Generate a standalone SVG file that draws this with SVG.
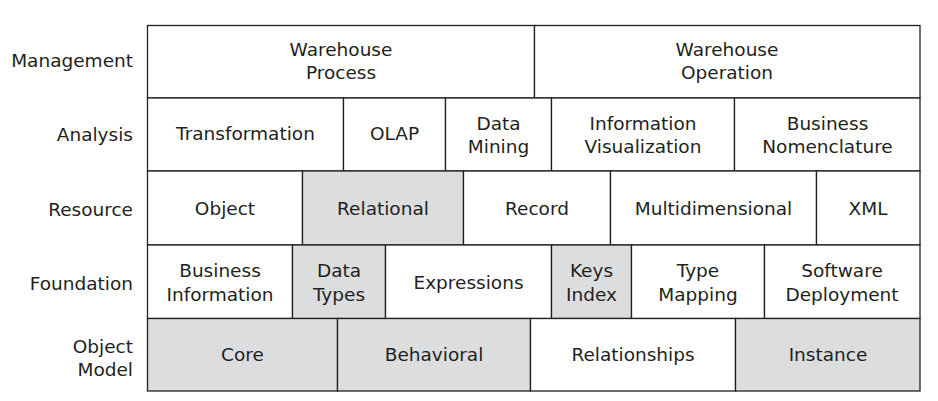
<svg xmlns="http://www.w3.org/2000/svg" width="938" height="401" viewBox="0 0 938 401">
<style>
.c{fill:#ffffff;stroke:#231f20;stroke-width:1.3}
.g{fill:#dcdddf;stroke:#231f20;stroke-width:1.3}
text{font-family:"DejaVu Sans","Open Sans",sans-serif;font-size:18.5px;fill:#231f20}
.t{text-anchor:middle}
.l{text-anchor:end}
</style>
<rect x="0" y="0" width="938" height="401" fill="#ffffff"/>
<g id="labels">
<text class="l" x="133" y="66.5">Management</text>
<text class="l" x="133" y="141">Analysis</text>
<text class="l" x="133" y="215.5">Resource</text>
<text class="l" x="133" y="290">Foundation</text>
<text class="l" x="133" y="352.5">Object</text>
<text class="l" x="133" y="376">Model</text>
</g>
<g id="warehouse-process"><rect class="c" x="147.5" y="25.5" width="387" height="72.5"/><text class="t" x="341" y="56">Warehouse</text><text class="t" x="341" y="79">Process</text></g>
<g id="warehouse-operation"><rect class="c" x="534.5" y="25.5" width="385.5" height="72.5"/><text class="t" x="727" y="56">Warehouse</text><text class="t" x="727" y="79">Operation</text></g>
<g id="transformation"><rect class="c" x="147.5" y="98" width="196" height="73"/><text class="t" x="245.5" y="140">Transformation</text></g>
<g id="olap"><rect class="c" x="343.5" y="98" width="102" height="73"/><text class="t" x="394.5" y="140">OLAP</text></g>
<g id="data-mining"><rect class="c" x="445.5" y="98" width="106" height="73"/><text class="t" x="498.5" y="129.5">Data</text><text class="t" x="498.5" y="153">Mining</text></g>
<g id="information-visualization"><rect class="c" x="551.5" y="98" width="183" height="73"/><text class="t" x="643" y="129.5">Information</text><text class="t" x="643" y="153">Visualization</text></g>
<g id="business-nomenclature"><rect class="c" x="734.5" y="98" width="185.5" height="73"/><text class="t" x="827.5" y="129.5">Business</text><text class="t" x="827.5" y="153">Nomenclature</text></g>
<g id="object"><rect class="c" x="147.5" y="171" width="155" height="74"/><text class="t" x="225" y="215">Object</text></g>
<g id="relational"><rect class="g" x="302.5" y="171" width="161" height="74"/><text class="t" x="383" y="215">Relational</text></g>
<g id="record"><rect class="c" x="463.5" y="171" width="147" height="74"/><text class="t" x="537" y="215">Record</text></g>
<g id="multidimensional"><rect class="c" x="610.5" y="171" width="206" height="74"/><text class="t" x="713.5" y="215">Multidimensional</text></g>
<g id="xml"><rect class="c" x="816.5" y="171" width="103.5" height="74"/><text class="t" x="868" y="215">XML</text></g>
<g id="business-information"><rect class="c" x="147.5" y="245" width="145" height="73.5"/><text class="t" x="220" y="277">Business</text><text class="t" x="220" y="301">Information</text></g>
<g id="data-types"><rect class="g" x="292.5" y="245" width="93" height="73.5"/><text class="t" x="339" y="277">Data</text><text class="t" x="339" y="301">Types</text></g>
<g id="expressions"><rect class="c" x="385.5" y="245" width="166" height="73.5"/><text class="t" x="468.5" y="289">Expressions</text></g>
<g id="keys-index"><rect class="g" x="551.5" y="245" width="80" height="73.5"/><text class="t" x="591.5" y="277">Keys</text><text class="t" x="591.5" y="301">Index</text></g>
<g id="type-mapping"><rect class="c" x="631.5" y="245" width="133" height="73.5"/><text class="t" x="698" y="277">Type</text><text class="t" x="698" y="301">Mapping</text></g>
<g id="software-deployment"><rect class="c" x="764.5" y="245" width="155.5" height="73.5"/><text class="t" x="842" y="277">Software</text><text class="t" x="842" y="301">Deployment</text></g>
<g id="core"><rect class="g" x="147.5" y="318.5" width="190" height="72.5"/><text class="t" x="242.5" y="361">Core</text></g>
<g id="behavioral"><rect class="g" x="337.5" y="318.5" width="193" height="72.5"/><text class="t" x="434" y="361">Behavioral</text></g>
<g id="relationships"><rect class="c" x="530.5" y="318.5" width="205" height="72.5"/><text class="t" x="633" y="361">Relationships</text></g>
<g id="instance"><rect class="g" x="735.5" y="318.5" width="184.5" height="72.5"/><text class="t" x="828" y="361">Instance</text></g>
</svg>
